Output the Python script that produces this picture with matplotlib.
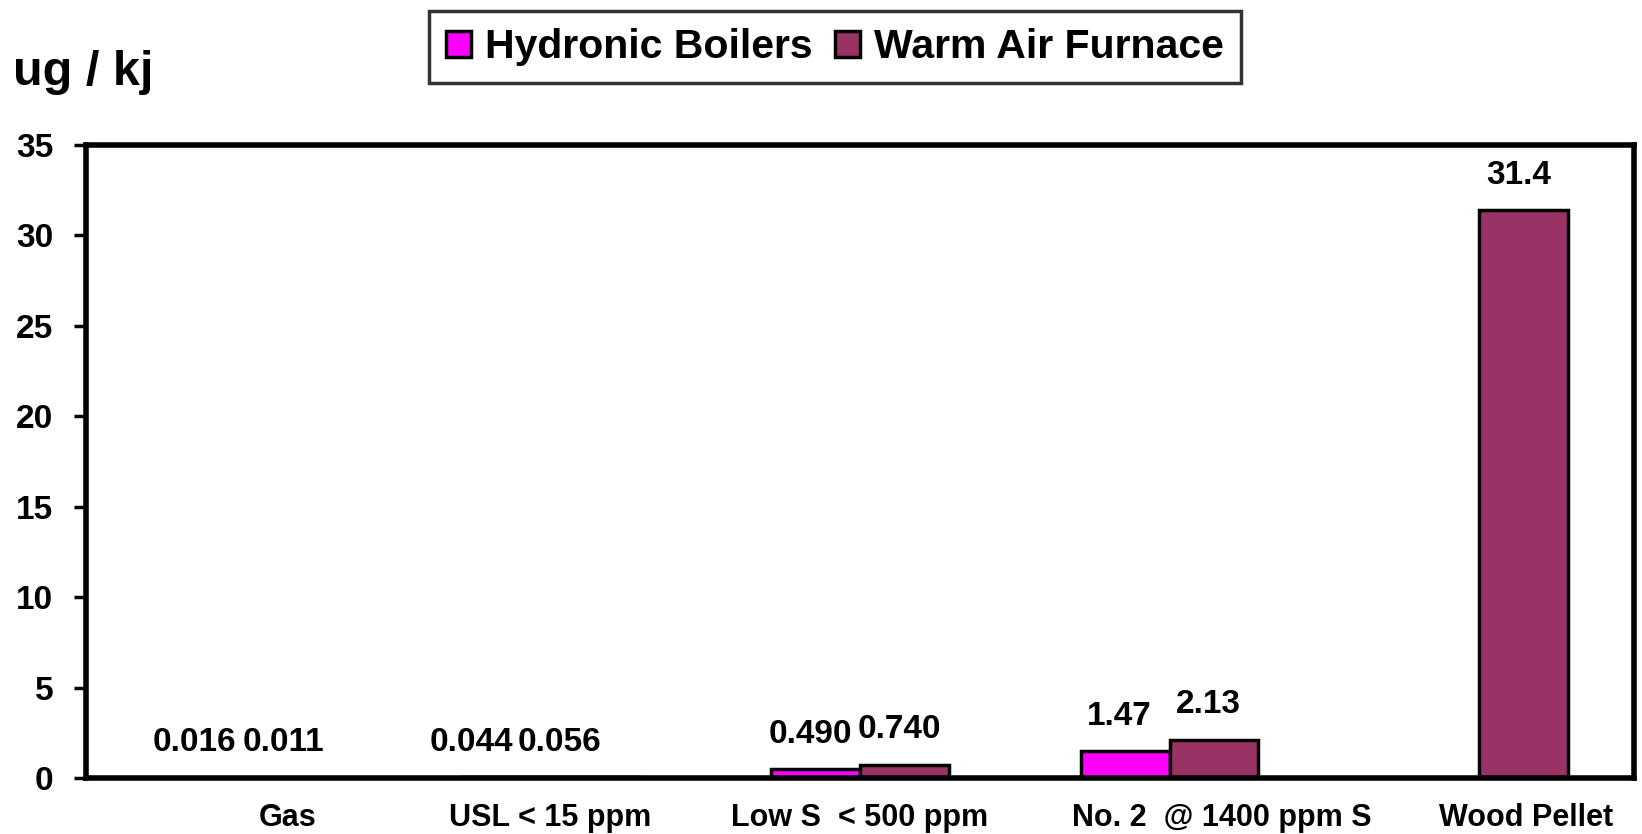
import numpy as np
import matplotlib
matplotlib.use("Agg")
import matplotlib.pyplot as plt
import matplotlib.transforms as mtransforms

plt.rcParams['font.family'] = ['Liberation Sans', 'DejaVu Sans']
plt.rcParams['font.weight'] = 'bold'

# ---- data ----
categories = ["Gas", "USL < 15 ppm", "Low S  < 500 ppm", "No. 2  @ 1400 ppm S", "Wood Pellet"]
hydronic = [0.016, 0.044, 0.490, 1.47, np.nan]
warm_air = [0.011, 0.056, 0.740, 2.13, 31.4]
hydronic_text = ["0.016", "0.044", "0.490", "1.47", None]
warm_air_text = ["0.011", "0.056", "0.740", "2.13", "31.4"]
series_names = ["Hydronic Boilers", "Warm Air Furnace"]
y_ticks = [0, 5, 10, 15, 20, 25, 30, 35]

# ---- style ----
colors = ["#FF00FF", "#993366"]
bar_w = 0.287
xlabel_shift_px = [47, 0, 0, 52, 47]
value_shift_px = [-2, -35, -5, -6, -5]

fig = plt.figure(figsize=(16.42, 8.34), dpi=100)
ax = fig.add_axes([0.0524, 0.0671, 0.9427, 0.759])

idx = np.arange(len(categories))
b1 = ax.bar(idx - bar_w / 2, hydronic, bar_w, color=colors[0], edgecolor='black',
            linewidth=2.5, label=series_names[0], zorder=2)
b2 = ax.bar(idx + bar_w / 2, warm_air, bar_w, color=colors[1], edgecolor='black',
            linewidth=2.5, label=series_names[1], zorder=2)

for vals, texts, off in [(hydronic, hydronic_text, -bar_w / 2), (warm_air, warm_air_text, bar_w / 2)]:
    for i, (v, t) in enumerate(zip(vals, texts)):
        if t is None or np.isnan(v):
            continue
        ax.annotate(t, xy=(i + off, v), xytext=(value_shift_px[i] * 0.72, 19),
                    textcoords='offset points', ha='center', va='baseline',
                    fontsize=24, fontweight='bold', zorder=3)

ax.set_xlim(-0.5, len(categories) - 0.5)
ax.set_ylim(0, 35)
ax.set_yticks(y_ticks)
ax.tick_params(axis='y', labelsize=24, length=8.5, width=2.5, pad=15, direction='out')
ax.set_xticks(idx)
ax.set_xticklabels(categories, fontsize=22, fontweight='bold')
ax.tick_params(axis='x', length=0, pad=18)
for lab, s in zip(ax.get_xticklabels(), xlabel_shift_px):
    lab.set_transform(lab.get_transform() + mtransforms.ScaledTranslation(s / 100, 0, fig.dpi_scale_trans))
for lab in ax.get_yticklabels():
    lab.set_fontweight('bold')

for sp in ax.spines.values():
    sp.set_linewidth(4)
    sp.set_color('black')

fig.text(13 / 1642, 1 - 85 / 834, "ug / kj", fontsize=35, fontweight='bold', ha='left', va='baseline')

leg = fig.legend(handles=[b1, b2], loc='center', bbox_to_anchor=(0.5085, 0.9436), ncol=2,
                 fontsize=29.5, frameon=True, fancybox=False, edgecolor='black',
                 handlelength=0.6, handleheight=0.6, handletextpad=0.35, columnspacing=0.55,
                 borderpad=0.42, borderaxespad=0)
leg.get_frame().set_linewidth(2.5)

fig.savefig("out.png", dpi=100)
